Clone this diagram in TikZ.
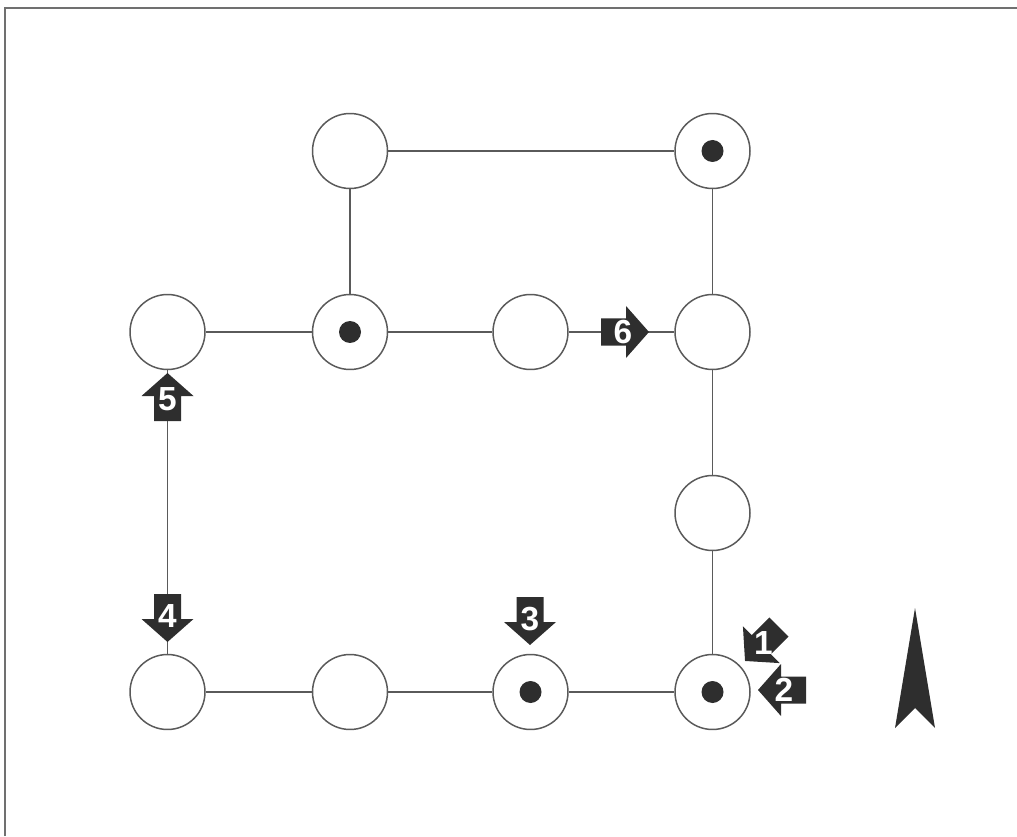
\documentclass[tikz,border=0pt]{standalone}
\usepackage{fontspec}
\setmainfont{Liberation Sans}
\definecolor{arrowfill}{HTML}{2E2E2E}
\definecolor{linegray}{HTML}{5A5A5A}
\definecolor{framegray}{HTML}{707070}
\newcommand\blockarrowx[5]{%
  \begin{scope}[shift={(#2,#3)}, rotate=#4]
    \fill[arrowfill] (-24,-13.5) -- (1,-13.5) -- (1,-26) -- (24,0) -- (1,26) -- (1,13.5) -- (-24,13.5) -- cycle;
    \node[numlabel] (#1) at (-2,0) {#5};
  \end{scope}}
\begin{document}
\begin{tikzpicture}[x=0.02cm,y=0.02cm,
  station/.style={circle, draw=linegray, line width=0.85pt, fill=white, minimum size=1.5cm, inner sep=0pt},
  dotmark/.style={circle, fill=arrowfill, minimum size=0.44cm, inner sep=0pt},
  link/.style={draw=linegray, line width=0.6pt},
  numlabel/.style={text=white, font=\fontsize{19}{19}\selectfont\bfseries, inner sep=0pt},
  frameline/.style={draw=framegray, line width=0.9pt}]
\useasboundingbox (0,0) rectangle (1017,836);
% frame
\coordinate (ftl) at (5,828);
\coordinate (ftr) at (1017,828);
\coordinate (fbl) at (5,0);
\draw[frameline] (fbl) -- (ftl) -- (ftr);
% stations
\node[station] (n11) at (350,685) {};
\node[station] (n14) at (712.5,685) {};
\node[station] (n21) at (167.5,504) {};
\node[station] (n22) at (350,504) {};
\node[station] (n23) at (530.5,504) {};
\node[station] (n24) at (712.5,504) {};
\node[station] (n34) at (712.5,323) {};
\node[station] (n41) at (167.5,144) {};
\node[station] (n42) at (350,144) {};
\node[station] (n43) at (530.5,144) {};
\node[station] (n44) at (712.5,144) {};
% links
\draw[link] (n11) -- (n14);
\draw[link] (n11) -- (n22);
\draw[link] (n14) -- (n24);
\draw[link] (n21) -- (n22);
\draw[link] (n22) -- (n23);
\draw[link] (n23) -- (n24);
\draw[link] (n24) -- (n34);
\draw[link] (n34) -- (n44);
\draw[link] (n21) -- (n41);
\draw[link] (n41) -- (n42);
\draw[link] (n42) -- (n43);
\draw[link] (n43) -- (n44);
% dots
\node[dotmark] (d14) at (n14.center) {};
\node[dotmark] (d22) at (n22.center) {};
\node[dotmark] (d43) at (n43.center) {};
\node[dotmark] (d44) at (n44.center) {};
% numbered block arrows
\blockarrowx{a1}{762}{192}{225}{1}
\blockarrowx{a2}{782}{146}{180}{2}
\blockarrowx{a3}{530}{215}{270}{3}
\blockarrowx{a4}{167.5}{218}{270}{4}
\blockarrowx{a5}{167.5}{439}{90}{5}
\blockarrowx{a6}{625}{504}{0}{6}
% north arrow
\coordinate (ntip) at (915,228);
\coordinate (nl) at (895,108);
\coordinate (nn) at (915,128);
\coordinate (nr) at (935,108);
\fill[arrowfill] (ntip) -- (nl) -- (nn) -- (nr) -- cycle;
\end{tikzpicture}
\end{document}
